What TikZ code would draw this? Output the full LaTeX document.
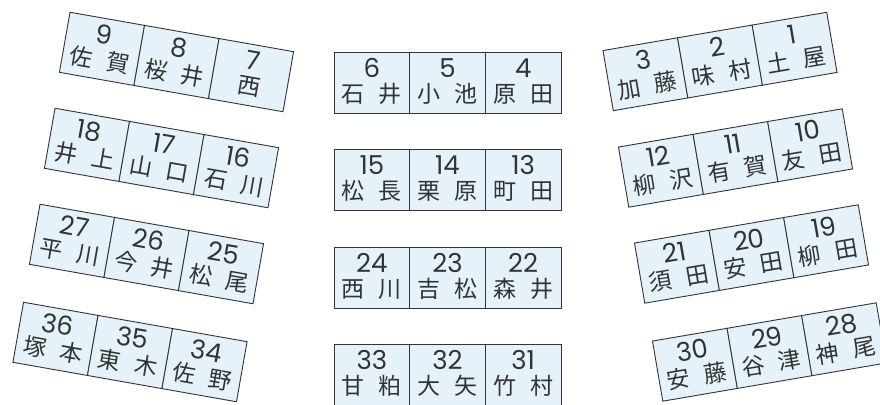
\documentclass[tikz,border=0pt]{standalone}
\usepackage{fontspec}
\newfontfamily\jpfont{Noto Sans CJK JP}
\newfontfamily\numfont{Poppins}
\definecolor{deskfill}{HTML}{E6F2FA}
\definecolor{deskline}{HTML}{333333}
\tikzset{
  desk/.style={draw=deskline, line width=0.9pt, fill=deskfill, minimum width=75.67pt,
    minimum height=61pt, inner sep=0pt, transform shape},
  deskno/.style={font=\numfont\fontsize{26}{26}\selectfont, text=black!80, inner sep=0pt,
    anchor=base, transform shape},
  deskname/.style={font=\jpfont\fontsize{23}{23}\selectfont, text=black!80, inner sep=0pt,
    anchor=base, transform shape},
}
\def\dashmark{-}
\newcommand\deskgroup[4]{%
  \begin{scope}[shift={#2}, rotate=#3]
    \foreach \n/\a/\b [count=\i] in {#4} {
      \pgfmathsetmacro\cx{(\i-2)*75.67}
      \node[desk] (#1d\i) at (\cx,0) {};
      \node[deskno] (#1n\i) at (\cx,5) {\n};
      \edef\tmpb{\b}
      \ifx\tmpb\dashmark
        \node[deskname] (#1k\i) at (\cx,-20) {\a};
      \else
        \node[deskname] (#1k\i a) at (\cx-18.5,-20) {\a};
        \node[deskname] (#1k\i b) at (\cx+18.5,-20) {\b};
      \fi
    }
  \end{scope}}
\begin{document}
\begin{tikzpicture}[x=1pt,y=1pt]
\useasboundingbox (0,0) rectangle (880,404);
\fill[white] (0,0) rectangle (880,404);
\clip (0,0) rectangle (880,404);
% left column
\deskgroup{La}{(176.5,342)}{-10}{9/佐/賀, 8/桜/井, 7/西/-}
\deskgroup{Lb}{(161.5,246)}{-10}{18/井/上, 17/山/口, 16/石/川}
\deskgroup{Lc}{(146.5,150)}{-10}{27/平/川, 26/今/井, 25/松/尾}
\deskgroup{Ld}{(130,52)}{-10}{36/塚/本, 35/東/木, 34/佐/野}
% middle column
\deskgroup{Ma}{(447.5,321.5)}{0}{6/石/井, 5/小/池, 4/原/田}
\deskgroup{Mb}{(447.5,224)}{0}{15/松/長, 14/栗/原, 13/町/田}
\deskgroup{Mc}{(447.5,126)}{0}{24/西/川, 23/吉/松, 22/森/井}
\deskgroup{Md}{(447.5,29.5)}{0}{33/甘/粕, 32/大/矢, 31/竹/村}
% right column
\deskgroup{Ra}{(720,342.5)}{9.7}{3/加/藤, 2/味/村, 1/土/屋}
\deskgroup{Rb}{(735.5,246)}{9.7}{12/柳/沢, 11/有/賀, 10/友/田}
\deskgroup{Rc}{(751.5,150)}{9.7}{21/須/田, 20/安/田, 19/柳/田}
\deskgroup{Rd}{(769.5,52)}{9.7}{30/安/藤, 29/谷/津, 28/神/尾}
\end{tikzpicture}
\end{document}
